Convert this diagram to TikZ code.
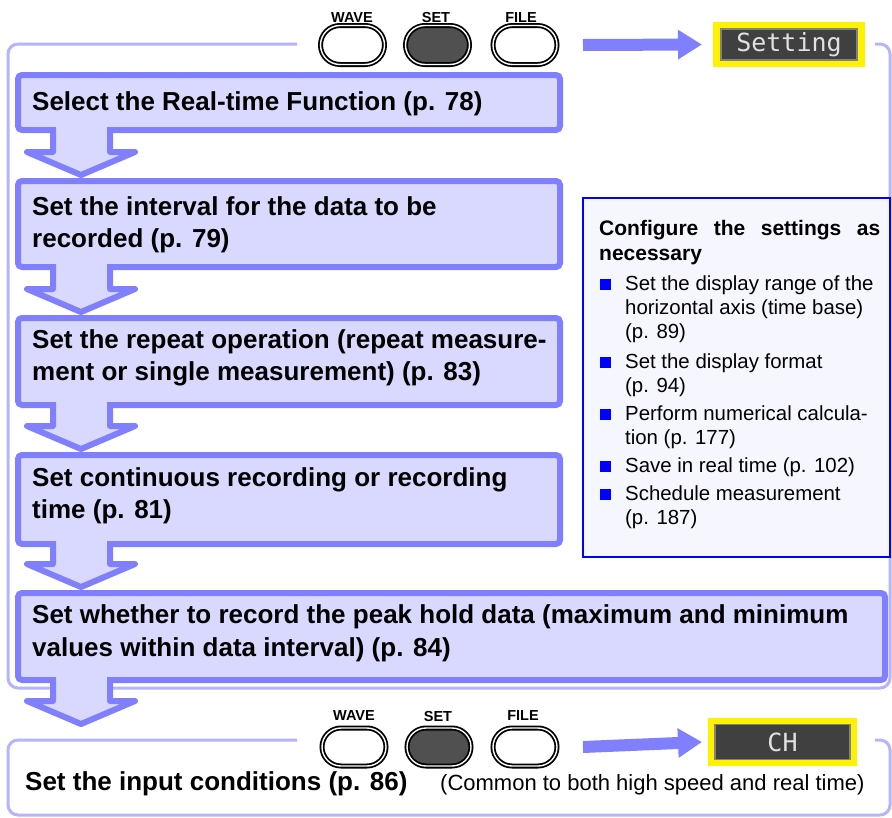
\documentclass[tikz,border=0pt]{standalone}
\usepackage{fontspec}
\setmainfont{Liberation Sans}
\newfontfamily\dispfont{DejaVu Sans Mono}
\usetikzlibrary{arrows.meta,calc}
\definecolor{stepline}{RGB}{128,128,255}
\definecolor{stepfill}{RGB}{217,217,255}
\definecolor{framec}{RGB}{180,180,255}
\definecolor{panelline}{RGB}{0,0,255}
\definecolor{panelfill}{RGB}{246,246,255}
\definecolor{btnfill}{RGB}{80,80,80}
\definecolor{scrfill}{RGB}{64,64,64}
\definecolor{scrline}{RGB}{130,130,130}
\definecolor{scrtext}{RGB}{225,225,225}
\tikzset{
  stepbox/.style={draw=stepline, fill=stepfill, line width=6pt, rounded corners=4pt,
    inner sep=0pt, outer sep=0pt, anchor=north west},
  steptext/.style={font=\bfseries\fontsize{26}{32}\selectfont, anchor=base west, inner sep=0pt},
  frameline/.style={draw=framec, line width=3pt, rounded corners=10pt},
  pill/.style={draw=black, double=white, double distance=1.4pt, line width=1.8pt,
    rounded corners=19pt, minimum width=64pt, minimum height=38pt, inner sep=0pt, outer sep=0pt},
  btnlabel/.style={font=\bfseries\fontsize{14.5}{16}\selectfont, inner sep=0pt},
  yellowbox/.style={fill=yellow, minimum width=152pt, minimum height=45pt, inner sep=0pt, outer sep=0pt},
  screen/.style={fill=scrfill, draw=scrline, line width=1.5pt, minimum width=136pt,
    minimum height=31pt, inner sep=0pt, outer sep=0pt, text=scrtext,
    font=\dispfont\fontsize{25}{25}\selectfont},
  bigarrow/.style={draw=stepline, line width=12pt, -{Triangle[length=24pt,width=28pt]}},
  paneltext/.style={font=\fontsize{20.4}{24}\selectfont, anchor=base west, inner sep=0pt},
  panelhead/.style={font=\bfseries\fontsize{21}{25}\selectfont, anchor=base west, inner sep=0pt},
  bulletsq/.style={fill=panelline, minimum size=11pt, inner sep=0pt, outer sep=0pt, anchor=south west},
}
\newcommand\flowarrow[2]{%
  \fill[stepfill] let \p1=#1, \p2=#2 in
    (53pt,\y1+5pt) -- (53pt,\y2+29pt) -- (27pt,\y2+29pt) -- (81pt,\y2+6pt)
    -- (135pt,\y2+29pt) -- (110pt,\y2+29pt) -- (110pt,\y1+5pt) -- cycle;
  \draw[stepline, line width=6pt, line join=round] let \p1=#1, \p2=#2 in
    (53pt,\y1+3pt) -- (53pt,\y2+29pt) -- (27pt,\y2+29pt) -- (81pt,\y2+6pt)
    -- (135pt,\y2+29pt) -- (110pt,\y2+29pt) -- (110pt,\y1+3pt);
}
\begin{document}
\begin{tikzpicture}[x=1pt,y=-1pt]
\useasboundingbox (0,0) rectangle (892,817);
\fill[white] (0,0) rectangle (892,817);

% frames
\draw[frameline] (297,44) -- (8,44) -- (8,688) -- (890,688) -- (890,44) -- (875,44);
\draw[frameline] (297,740) -- (8,740) -- (8,815) -- (890,815) -- (890,740) -- (875,740);

% step boxes
\node[stepbox, minimum width=542pt, minimum height=55pt] (b1) at (18,75) {};
\node[stepbox, minimum width=542pt, minimum height=86pt] (b2) at (18,181) {};
\node[stepbox, minimum width=542pt, minimum height=87pt] (b3) at (18,318) {};
\node[stepbox, minimum width=542pt, minimum height=89pt] (b4) at (18,455) {};
\node[stepbox, minimum width=867pt, minimum height=87pt] (b5) at (18,593) {};
\coordinate (a5end) at (81,730);

\flowarrow{(b1.south)}{(b2.north)}
\flowarrow{(b2.south)}{(b3.north)}
\flowarrow{(b3.south)}{(b4.north)}
\flowarrow{(b4.south)}{(b5.north)}
\flowarrow{(b5.south)}{(a5end)}

% step texts
\node[steptext] (t1) at (32,110) {Select the Real-time Function (p. 78)};
\node[steptext] (t2a) at (32,215) {Set the interval for the data to be};
\node[steptext] (t2b) at (32,247) {recorded (p. 79)};
\node[steptext] (t3a) at (32,348) {Set the repeat operation (repeat measure-};
\node[steptext] (t3b) at (32,380) {ment or single measurement) (p. 83)};
\node[steptext] (t4a) at (32,486) {Set continuous recording or recording};
\node[steptext] (t4b) at (32,518) {time (p. 81)};
\node[steptext] (t5a) at (32,623) {Set whether to record the peak hold data (maximum and minimum};
\node[steptext] (t5b) at (32,656) {values within data interval) (p. 84)};

% top buttons
\node[btnlabel] (lw1) at (352,18) {WAVE};
\node[btnlabel] (ls1) at (436,18) {SET};
\node[btnlabel] (lf1) at (521,18) {FILE};
\node[pill, minimum height=39pt, rounded corners=19.5pt, fill=white] (w1) at (352.5,45) {};
\node[pill, minimum height=39pt, rounded corners=19.5pt, fill=btnfill] (s1) at (437.5,45) {};
\node[pill, minimum height=39pt, rounded corners=19.5pt, fill=white] (f1) at (525,45) {};
\node[yellowbox] (disp1) at (789,44.5) {};
\node[screen] (scr1) at (disp1.center) {Setting};
\draw[bigarrow] ([xshift=26pt]f1.east) -- ([xshift=-11pt]disp1.west);

% bottom buttons
\node[btnlabel] (lw2) at (354,716) {WAVE};
\node[btnlabel] (ls2) at (438,716) {SET};
\node[btnlabel] (lf2) at (523,716) {FILE};
\node[pill, fill=white] (w2) at (354,747) {};
\node[pill, fill=btnfill] (s2) at (439,747) {};
\node[pill, fill=white] (f2) at (525,747) {};
\node[yellowbox, minimum width=149pt, minimum height=48pt] (disp2) at (782.5,742) {};
\node[screen, minimum width=135pt, minimum height=35pt] (scr2) at (disp2.center) {CH};
\draw[bigarrow] ([xshift=26pt]f2.east) -- ([xshift=-6pt]disp2.west);

\node[steptext] (tin) at (25,790) {Set the input conditions (p. 86)};
\node[font=\fontsize{22}{26}\selectfont, anchor=base west, inner sep=0pt] (tcm) at (440,790)
  {(Common to both high speed and real time)};

% right panel
\node[draw=panelline, fill=panelfill, line width=2pt, minimum width=307pt, minimum height=359pt,
  anchor=north west, inner sep=0pt, outer sep=0pt] (panel) at (583,198) {};
\node[panelhead] (ph1) at (599,235) {\hbox to 281pt{Configure\hfill the\hfill settings\hfill as}};
\node[panelhead] (ph2) at (599,260) {necessary};
\node[bulletsq] (q1) at (600,290) {};
\node[paneltext] (p1a) at (625,290) {Set the display range of the};
\node[paneltext] (p1b) at (625,314) {horizontal axis (time base)};
\node[paneltext] (p1c) at (625,338) {(p. 89)};
\node[bulletsq] (q2) at (600,368) {};
\node[paneltext] (p2a) at (625,368) {Set the display format};
\node[paneltext] (p2b) at (625,392) {(p. 94)};
\node[bulletsq] (q3) at (600,420) {};
\node[paneltext] (p3a) at (625,420) {Perform numerical calcula-};
\node[paneltext] (p3b) at (625,444) {tion (p. 177)};
\node[bulletsq] (q4) at (600,472) {};
\node[paneltext] (p4a) at (625,472) {Save in real time (p. 102)};
\node[bulletsq] (q5) at (600,500) {};
\node[paneltext] (p5a) at (625,500) {Schedule measurement};
\node[paneltext] (p5b) at (625,524) {(p. 187)};
\end{tikzpicture}
\end{document}
